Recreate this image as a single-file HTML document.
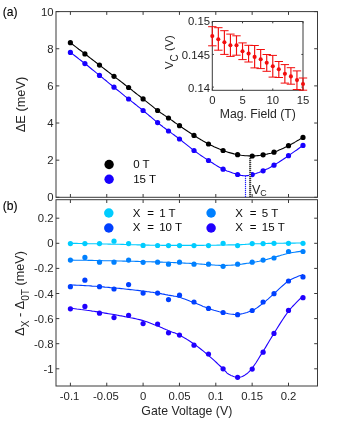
<!DOCTYPE html>
<html><head><meta charset="utf-8"><title>Figure</title>
<style>
html,body{margin:0;padding:0;background:#fff;}
body{width:339px;height:422px;overflow:hidden;font-family:"Liberation Sans",sans-serif;}
svg{display:block;}
#wrap{will-change:transform;width:339px;height:422px;}
svg text{font-family:"Liberation Sans",sans-serif;}
</style></head><body>
<div id="wrap">
<svg width="339" height="422" viewBox="0 0 339 422">
<rect x="0" y="0" width="339" height="422" fill="#ffffff"/>
<rect x="56.0" y="11.6" width="261.50" height="185.70" fill="none" stroke="#3a3a3a" stroke-width="1"/>
<line x1="70.40" y1="197.30" x2="70.40" y2="194.00" stroke="#3a3a3a" stroke-width="1" />
<line x1="70.40" y1="11.60" x2="70.40" y2="14.90" stroke="#3a3a3a" stroke-width="1" />
<line x1="106.75" y1="197.30" x2="106.75" y2="194.00" stroke="#3a3a3a" stroke-width="1" />
<line x1="106.75" y1="11.60" x2="106.75" y2="14.90" stroke="#3a3a3a" stroke-width="1" />
<line x1="143.10" y1="197.30" x2="143.10" y2="194.00" stroke="#3a3a3a" stroke-width="1" />
<line x1="143.10" y1="11.60" x2="143.10" y2="14.90" stroke="#3a3a3a" stroke-width="1" />
<line x1="179.45" y1="197.30" x2="179.45" y2="194.00" stroke="#3a3a3a" stroke-width="1" />
<line x1="179.45" y1="11.60" x2="179.45" y2="14.90" stroke="#3a3a3a" stroke-width="1" />
<line x1="215.80" y1="197.30" x2="215.80" y2="194.00" stroke="#3a3a3a" stroke-width="1" />
<line x1="215.80" y1="11.60" x2="215.80" y2="14.90" stroke="#3a3a3a" stroke-width="1" />
<line x1="252.15" y1="197.30" x2="252.15" y2="194.00" stroke="#3a3a3a" stroke-width="1" />
<line x1="252.15" y1="11.60" x2="252.15" y2="14.90" stroke="#3a3a3a" stroke-width="1" />
<line x1="288.50" y1="197.30" x2="288.50" y2="194.00" stroke="#3a3a3a" stroke-width="1" />
<line x1="288.50" y1="11.60" x2="288.50" y2="14.90" stroke="#3a3a3a" stroke-width="1" />
<line x1="56.00" y1="197.30" x2="59.30" y2="197.30" stroke="#3a3a3a" stroke-width="1" />
<line x1="317.50" y1="197.30" x2="314.20" y2="197.30" stroke="#3a3a3a" stroke-width="1" />
<line x1="56.00" y1="160.16" x2="59.30" y2="160.16" stroke="#3a3a3a" stroke-width="1" />
<line x1="317.50" y1="160.16" x2="314.20" y2="160.16" stroke="#3a3a3a" stroke-width="1" />
<line x1="56.00" y1="123.02" x2="59.30" y2="123.02" stroke="#3a3a3a" stroke-width="1" />
<line x1="317.50" y1="123.02" x2="314.20" y2="123.02" stroke="#3a3a3a" stroke-width="1" />
<line x1="56.00" y1="85.88" x2="59.30" y2="85.88" stroke="#3a3a3a" stroke-width="1" />
<line x1="317.50" y1="85.88" x2="314.20" y2="85.88" stroke="#3a3a3a" stroke-width="1" />
<line x1="56.00" y1="48.74" x2="59.30" y2="48.74" stroke="#3a3a3a" stroke-width="1" />
<line x1="317.50" y1="48.74" x2="314.20" y2="48.74" stroke="#3a3a3a" stroke-width="1" />
<line x1="56.00" y1="11.60" x2="59.30" y2="11.60" stroke="#3a3a3a" stroke-width="1" />
<line x1="317.50" y1="11.60" x2="314.20" y2="11.60" stroke="#3a3a3a" stroke-width="1" />
<rect x="56.0" y="199.7" width="261.50" height="186.30" fill="none" stroke="#3a3a3a" stroke-width="1"/>
<line x1="70.40" y1="386.00" x2="70.40" y2="382.70" stroke="#3a3a3a" stroke-width="1" />
<line x1="70.40" y1="199.70" x2="70.40" y2="203.00" stroke="#3a3a3a" stroke-width="1" />
<line x1="106.75" y1="386.00" x2="106.75" y2="382.70" stroke="#3a3a3a" stroke-width="1" />
<line x1="106.75" y1="199.70" x2="106.75" y2="203.00" stroke="#3a3a3a" stroke-width="1" />
<line x1="143.10" y1="386.00" x2="143.10" y2="382.70" stroke="#3a3a3a" stroke-width="1" />
<line x1="143.10" y1="199.70" x2="143.10" y2="203.00" stroke="#3a3a3a" stroke-width="1" />
<line x1="179.45" y1="386.00" x2="179.45" y2="382.70" stroke="#3a3a3a" stroke-width="1" />
<line x1="179.45" y1="199.70" x2="179.45" y2="203.00" stroke="#3a3a3a" stroke-width="1" />
<line x1="215.80" y1="386.00" x2="215.80" y2="382.70" stroke="#3a3a3a" stroke-width="1" />
<line x1="215.80" y1="199.70" x2="215.80" y2="203.00" stroke="#3a3a3a" stroke-width="1" />
<line x1="252.15" y1="386.00" x2="252.15" y2="382.70" stroke="#3a3a3a" stroke-width="1" />
<line x1="252.15" y1="199.70" x2="252.15" y2="203.00" stroke="#3a3a3a" stroke-width="1" />
<line x1="288.50" y1="386.00" x2="288.50" y2="382.70" stroke="#3a3a3a" stroke-width="1" />
<line x1="288.50" y1="199.70" x2="288.50" y2="203.00" stroke="#3a3a3a" stroke-width="1" />
<line x1="56.00" y1="218.20" x2="59.30" y2="218.20" stroke="#3a3a3a" stroke-width="1" />
<line x1="317.50" y1="218.20" x2="314.20" y2="218.20" stroke="#3a3a3a" stroke-width="1" />
<line x1="56.00" y1="243.30" x2="59.30" y2="243.30" stroke="#3a3a3a" stroke-width="1" />
<line x1="317.50" y1="243.30" x2="314.20" y2="243.30" stroke="#3a3a3a" stroke-width="1" />
<line x1="56.00" y1="268.40" x2="59.30" y2="268.40" stroke="#3a3a3a" stroke-width="1" />
<line x1="317.50" y1="268.40" x2="314.20" y2="268.40" stroke="#3a3a3a" stroke-width="1" />
<line x1="56.00" y1="293.50" x2="59.30" y2="293.50" stroke="#3a3a3a" stroke-width="1" />
<line x1="317.50" y1="293.50" x2="314.20" y2="293.50" stroke="#3a3a3a" stroke-width="1" />
<line x1="56.00" y1="318.60" x2="59.30" y2="318.60" stroke="#3a3a3a" stroke-width="1" />
<line x1="317.50" y1="318.60" x2="314.20" y2="318.60" stroke="#3a3a3a" stroke-width="1" />
<line x1="56.00" y1="343.70" x2="59.30" y2="343.70" stroke="#3a3a3a" stroke-width="1" />
<line x1="317.50" y1="343.70" x2="314.20" y2="343.70" stroke="#3a3a3a" stroke-width="1" />
<line x1="56.00" y1="368.80" x2="59.30" y2="368.80" stroke="#3a3a3a" stroke-width="1" />
<line x1="317.50" y1="368.80" x2="314.20" y2="368.80" stroke="#3a3a3a" stroke-width="1" />
<polyline points="70.4,42.7 71.5,43.6 73.0,44.7 74.8,46.1 76.8,47.6 78.8,49.2 81.0,50.8 83.0,52.4 84.9,53.9 86.8,55.3 88.6,56.7 90.4,58.1 92.2,59.5 94.0,60.9 95.8,62.3 97.7,63.7 99.5,65.1 101.3,66.5 103.1,67.9 104.9,69.3 106.8,70.7 108.6,72.1 110.4,73.5 112.2,74.9 114.0,76.3 115.8,77.7 117.7,79.1 119.5,80.5 121.3,81.9 123.1,83.3 124.9,84.7 126.7,86.1 128.6,87.5 130.4,88.9 132.2,90.3 134.0,91.8 135.8,93.2 137.6,94.6 139.5,96.0 141.3,97.5 143.1,98.9 144.9,100.4 146.8,101.9 148.7,103.4 150.6,104.9 152.5,106.4 154.3,107.9 156.0,109.2 157.6,110.5 159.2,111.6 160.6,112.7 162.0,113.6 163.3,114.5 164.6,115.4 165.9,116.2 167.2,117.1 168.5,118.0 169.9,118.9 171.2,119.9 172.5,120.8 173.8,121.7 175.1,122.7 176.5,123.6 177.9,124.6 179.5,125.7 181.1,126.8 182.8,128.0 184.6,129.2 186.5,130.5 188.4,131.8 190.3,133.0 192.1,134.2 194.0,135.4 195.8,136.5 197.6,137.7 199.4,138.8 201.3,139.9 203.1,141.0 204.9,142.0 206.7,143.0 208.5,144.0 210.3,144.9 212.2,145.8 214.0,146.7 215.8,147.5 217.6,148.3 219.4,149.1 221.3,149.8 223.1,150.5 224.9,151.2 226.7,151.8 228.5,152.4 230.3,152.9 232.2,153.4 234.0,153.9 235.8,154.3 237.6,154.7 239.5,155.0 241.3,155.3 243.2,155.5 245.1,155.7 247.0,155.8 248.8,155.9 250.5,156.0 252.2,156.0 253.7,156.0 255.1,155.9 256.5,155.8 257.8,155.6 259.1,155.5 260.4,155.3 261.7,155.0 263.1,154.8 264.4,154.6 265.7,154.3 267.0,154.1 268.3,153.8 269.6,153.5 271.0,153.2 272.4,152.7 274.0,152.2 275.6,151.6 277.3,150.9 279.1,150.1 281.0,149.3 282.9,148.4 284.8,147.5 286.7,146.6 288.5,145.7 290.4,144.7 292.5,143.6 294.6,142.4 296.7,141.1 298.7,140.0 300.4,138.9 301.9,138.1 303.0,137.4" fill="none" stroke="#000000" stroke-width="1.1" stroke-linejoin="round"/>
<circle cx="70.4" cy="42.7" r="2.6" fill="#000000"/>
<circle cx="84.9" cy="53.9" r="2.6" fill="#000000"/>
<circle cx="99.5" cy="65.1" r="2.6" fill="#000000"/>
<circle cx="114.0" cy="76.3" r="2.6" fill="#000000"/>
<circle cx="128.6" cy="87.5" r="2.6" fill="#000000"/>
<circle cx="143.1" cy="98.9" r="2.6" fill="#000000"/>
<circle cx="157.6" cy="110.5" r="2.6" fill="#000000"/>
<circle cx="168.5" cy="118.0" r="2.6" fill="#000000"/>
<circle cx="179.5" cy="125.7" r="2.6" fill="#000000"/>
<circle cx="194.0" cy="135.4" r="2.6" fill="#000000"/>
<circle cx="208.5" cy="144.0" r="2.6" fill="#000000"/>
<circle cx="223.1" cy="150.5" r="2.6" fill="#000000"/>
<circle cx="237.6" cy="154.7" r="2.6" fill="#000000"/>
<circle cx="252.2" cy="156.0" r="2.6" fill="#000000"/>
<circle cx="263.1" cy="154.8" r="2.6" fill="#000000"/>
<circle cx="274.0" cy="152.2" r="2.6" fill="#000000"/>
<circle cx="288.5" cy="145.7" r="2.6" fill="#000000"/>
<circle cx="303.0" cy="137.4" r="2.6" fill="#000000"/>
<polyline points="70.4,52.4 71.5,53.3 73.0,54.4 74.8,55.8 76.8,57.3 78.8,58.9 81.0,60.5 83.0,62.1 84.9,63.6 86.8,65.0 88.6,66.5 90.4,68.0 92.2,69.5 94.0,70.9 95.8,72.4 97.7,73.9 99.5,75.4 101.3,76.9 103.1,78.3 104.9,79.8 106.8,81.3 108.6,82.8 110.4,84.3 112.2,85.7 114.0,87.2 115.8,88.7 117.7,90.2 119.5,91.6 121.3,93.1 123.1,94.6 124.9,96.1 126.7,97.5 128.6,99.0 130.4,100.4 132.2,101.9 134.0,103.3 135.8,104.7 137.6,106.2 139.5,107.6 141.3,109.0 143.1,110.5 144.9,112.0 146.8,113.6 148.7,115.2 150.6,116.7 152.5,118.3 154.3,119.8 156.0,121.3 157.6,122.6 159.2,123.8 160.6,125.0 162.0,126.0 163.3,127.1 164.6,128.0 165.9,129.0 167.2,130.0 168.5,131.0 169.9,132.0 171.2,132.9 172.5,133.9 173.8,134.8 175.1,135.8 176.5,136.8 177.9,137.8 179.5,139.0 181.1,140.3 182.8,141.7 184.6,143.1 186.5,144.6 188.4,146.1 190.3,147.6 192.1,149.1 194.0,150.5 195.8,151.8 197.6,153.1 199.4,154.4 201.3,155.7 203.1,156.9 204.9,158.1 206.7,159.3 208.5,160.5 210.3,161.7 212.2,162.8 214.0,164.0 215.8,165.1 217.6,166.2 219.4,167.3 221.3,168.3 223.1,169.2 224.9,170.1 226.9,170.9 228.8,171.6 230.8,172.3 232.7,173.0 234.5,173.5 236.1,174.1 237.6,174.5 238.9,174.9 240.0,175.1 241.0,175.4 241.9,175.5 242.8,175.6 243.6,175.7 244.4,175.7 245.3,175.7 246.2,175.7 247.0,175.6 247.8,175.6 248.5,175.5 249.3,175.3 250.2,175.1 251.1,174.9 252.2,174.6 253.3,174.3 254.6,173.9 255.9,173.5 257.3,173.0 258.8,172.5 260.2,171.9 261.7,171.4 263.1,170.8 264.4,170.2 265.7,169.6 267.0,169.0 268.3,168.4 269.6,167.7 271.0,166.9 272.4,166.1 274.0,165.2 275.6,164.2 277.3,163.1 279.1,162.0 281.0,160.7 282.9,159.5 284.8,158.2 286.7,157.0 288.5,155.7 290.4,154.4 292.5,152.9 294.6,151.4 296.7,150.0 298.7,148.5 300.4,147.3 301.9,146.2 303.0,145.4" fill="none" stroke="#1800ff" stroke-width="1.1" stroke-linejoin="round"/>
<circle cx="70.4" cy="52.4" r="2.6" fill="#1800ff"/>
<circle cx="84.9" cy="63.6" r="2.6" fill="#1800ff"/>
<circle cx="99.5" cy="75.4" r="2.6" fill="#1800ff"/>
<circle cx="114.0" cy="87.2" r="2.6" fill="#1800ff"/>
<circle cx="128.6" cy="99.0" r="2.6" fill="#1800ff"/>
<circle cx="143.1" cy="110.5" r="2.6" fill="#1800ff"/>
<circle cx="157.6" cy="122.6" r="2.6" fill="#1800ff"/>
<circle cx="168.5" cy="131.0" r="2.6" fill="#1800ff"/>
<circle cx="179.5" cy="139.0" r="2.6" fill="#1800ff"/>
<circle cx="194.0" cy="150.5" r="2.6" fill="#1800ff"/>
<circle cx="208.5" cy="160.5" r="2.6" fill="#1800ff"/>
<circle cx="223.1" cy="169.2" r="2.6" fill="#1800ff"/>
<circle cx="237.6" cy="174.5" r="2.6" fill="#1800ff"/>
<circle cx="252.2" cy="174.6" r="2.6" fill="#1800ff"/>
<circle cx="263.1" cy="170.8" r="2.6" fill="#1800ff"/>
<circle cx="274.0" cy="165.2" r="2.6" fill="#1800ff"/>
<circle cx="288.5" cy="155.7" r="2.6" fill="#1800ff"/>
<circle cx="303.0" cy="145.4" r="2.6" fill="#1800ff"/>
<line x1="250.00" y1="158.00" x2="250.00" y2="197.00" stroke="#c6c6c6" stroke-width="2" />
<line x1="250.20" y1="158.00" x2="250.20" y2="197.00" stroke="#3c3c3c" stroke-width="2" stroke-dasharray="1 1"/>
<line x1="245.50" y1="176.00" x2="245.50" y2="197.00" stroke="#c4c4ff" stroke-width="1" />
<line x1="245.50" y1="176.00" x2="245.50" y2="197.00" stroke="#2020ff" stroke-width="1.2" stroke-dasharray="1 1"/>
<circle cx="109.1" cy="164.5" r="4.7" fill="#000"/>
<circle cx="109.1" cy="179.2" r="4.7" fill="#1800ff"/>
<rect x="212.3" y="21.5" width="90.70" height="68.80" fill="#fff" stroke="#3a3a3a" stroke-width="1"/>
<line x1="212.30" y1="90.30" x2="212.30" y2="88.50" stroke="#3a3a3a" stroke-width="1" />
<line x1="212.30" y1="21.50" x2="212.30" y2="23.30" stroke="#3a3a3a" stroke-width="1" />
<line x1="242.53" y1="90.30" x2="242.53" y2="88.50" stroke="#3a3a3a" stroke-width="1" />
<line x1="242.53" y1="21.50" x2="242.53" y2="23.30" stroke="#3a3a3a" stroke-width="1" />
<line x1="272.77" y1="90.30" x2="272.77" y2="88.50" stroke="#3a3a3a" stroke-width="1" />
<line x1="272.77" y1="21.50" x2="272.77" y2="23.30" stroke="#3a3a3a" stroke-width="1" />
<line x1="303.00" y1="90.30" x2="303.00" y2="88.50" stroke="#3a3a3a" stroke-width="1" />
<line x1="303.00" y1="21.50" x2="303.00" y2="23.30" stroke="#3a3a3a" stroke-width="1" />
<line x1="212.30" y1="21.50" x2="213.90" y2="21.50" stroke="#3a3a3a" stroke-width="1" />
<line x1="303.00" y1="21.50" x2="301.40" y2="21.50" stroke="#3a3a3a" stroke-width="1" />
<line x1="212.30" y1="54.45" x2="213.90" y2="54.45" stroke="#3a3a3a" stroke-width="1" />
<line x1="303.00" y1="54.45" x2="301.40" y2="54.45" stroke="#3a3a3a" stroke-width="1" />
<line x1="212.30" y1="87.10" x2="213.90" y2="87.10" stroke="#3a3a3a" stroke-width="1" />
<line x1="303.00" y1="87.10" x2="301.40" y2="87.10" stroke="#3a3a3a" stroke-width="1" />
<line x1="212.30" y1="26.70" x2="212.30" y2="45.80" stroke="#f20d0d" stroke-width="1.15" />
<line x1="208.10" y1="26.70" x2="216.50" y2="26.70" stroke="#f20d0d" stroke-width="1" />
<line x1="208.10" y1="45.80" x2="216.50" y2="45.80" stroke="#f20d0d" stroke-width="1" />
<circle cx="212.3" cy="36.1" r="2.05" fill="#f20d0d"/>
<line x1="218.35" y1="27.70" x2="218.35" y2="50.20" stroke="#f20d0d" stroke-width="1.15" />
<line x1="214.15" y1="27.70" x2="222.55" y2="27.70" stroke="#f20d0d" stroke-width="1" />
<line x1="214.15" y1="50.20" x2="222.55" y2="50.20" stroke="#f20d0d" stroke-width="1" />
<circle cx="218.3" cy="39.3" r="2.05" fill="#f20d0d"/>
<line x1="224.39" y1="30.70" x2="224.39" y2="54.40" stroke="#f20d0d" stroke-width="1.15" />
<line x1="220.19" y1="30.70" x2="228.59" y2="30.70" stroke="#f20d0d" stroke-width="1" />
<line x1="220.19" y1="54.40" x2="228.59" y2="54.40" stroke="#f20d0d" stroke-width="1" />
<circle cx="224.4" cy="42.3" r="2.05" fill="#f20d0d"/>
<line x1="230.44" y1="34.10" x2="230.44" y2="56.40" stroke="#f20d0d" stroke-width="1.15" />
<line x1="226.24" y1="34.10" x2="234.64" y2="34.10" stroke="#f20d0d" stroke-width="1" />
<line x1="226.24" y1="56.40" x2="234.64" y2="56.40" stroke="#f20d0d" stroke-width="1" />
<circle cx="230.4" cy="45.3" r="2.05" fill="#f20d0d"/>
<line x1="236.49" y1="35.80" x2="236.49" y2="55.20" stroke="#f20d0d" stroke-width="1.15" />
<line x1="232.29" y1="35.80" x2="240.69" y2="35.80" stroke="#f20d0d" stroke-width="1" />
<line x1="232.29" y1="55.20" x2="240.69" y2="55.20" stroke="#f20d0d" stroke-width="1" />
<circle cx="236.5" cy="45.3" r="2.05" fill="#f20d0d"/>
<line x1="242.53" y1="42.90" x2="242.53" y2="59.60" stroke="#f20d0d" stroke-width="1.15" />
<line x1="238.33" y1="42.90" x2="246.73" y2="42.90" stroke="#f20d0d" stroke-width="1" />
<line x1="238.33" y1="59.60" x2="246.73" y2="59.60" stroke="#f20d0d" stroke-width="1" />
<circle cx="242.5" cy="51.3" r="2.05" fill="#f20d0d"/>
<line x1="248.58" y1="45.30" x2="248.58" y2="62.00" stroke="#f20d0d" stroke-width="1.15" />
<line x1="244.38" y1="45.30" x2="252.78" y2="45.30" stroke="#f20d0d" stroke-width="1" />
<line x1="244.38" y1="62.00" x2="252.78" y2="62.00" stroke="#f20d0d" stroke-width="1" />
<circle cx="248.6" cy="53.6" r="2.05" fill="#f20d0d"/>
<line x1="254.63" y1="45.50" x2="254.63" y2="67.90" stroke="#f20d0d" stroke-width="1.15" />
<line x1="250.43" y1="45.50" x2="258.83" y2="45.50" stroke="#f20d0d" stroke-width="1" />
<line x1="250.43" y1="67.90" x2="258.83" y2="67.90" stroke="#f20d0d" stroke-width="1" />
<circle cx="254.6" cy="56.9" r="2.05" fill="#f20d0d"/>
<line x1="260.67" y1="49.50" x2="260.67" y2="68.60" stroke="#f20d0d" stroke-width="1.15" />
<line x1="256.47" y1="49.50" x2="264.87" y2="49.50" stroke="#f20d0d" stroke-width="1" />
<line x1="256.47" y1="68.60" x2="264.87" y2="68.60" stroke="#f20d0d" stroke-width="1" />
<circle cx="260.7" cy="59.2" r="2.05" fill="#f20d0d"/>
<line x1="266.72" y1="54.50" x2="266.72" y2="71.30" stroke="#f20d0d" stroke-width="1.15" />
<line x1="262.52" y1="54.50" x2="270.92" y2="54.50" stroke="#f20d0d" stroke-width="1" />
<line x1="262.52" y1="71.30" x2="270.92" y2="71.30" stroke="#f20d0d" stroke-width="1" />
<circle cx="266.7" cy="62.8" r="2.05" fill="#f20d0d"/>
<line x1="272.77" y1="55.40" x2="272.77" y2="77.10" stroke="#f20d0d" stroke-width="1.15" />
<line x1="268.57" y1="55.40" x2="276.97" y2="55.40" stroke="#f20d0d" stroke-width="1" />
<line x1="268.57" y1="77.10" x2="276.97" y2="77.10" stroke="#f20d0d" stroke-width="1" />
<circle cx="272.8" cy="66.3" r="2.05" fill="#f20d0d"/>
<line x1="278.81" y1="61.50" x2="278.81" y2="77.50" stroke="#f20d0d" stroke-width="1.15" />
<line x1="274.61" y1="61.50" x2="283.01" y2="61.50" stroke="#f20d0d" stroke-width="1" />
<line x1="274.61" y1="77.50" x2="283.01" y2="77.50" stroke="#f20d0d" stroke-width="1" />
<circle cx="278.8" cy="69.3" r="2.05" fill="#f20d0d"/>
<line x1="284.86" y1="64.60" x2="284.86" y2="83.10" stroke="#f20d0d" stroke-width="1.15" />
<line x1="280.66" y1="64.60" x2="289.06" y2="64.60" stroke="#f20d0d" stroke-width="1" />
<line x1="280.66" y1="83.10" x2="289.06" y2="83.10" stroke="#f20d0d" stroke-width="1" />
<circle cx="284.9" cy="73.8" r="2.05" fill="#f20d0d"/>
<line x1="290.91" y1="67.70" x2="290.91" y2="84.20" stroke="#f20d0d" stroke-width="1.15" />
<line x1="286.71" y1="67.70" x2="295.11" y2="67.70" stroke="#f20d0d" stroke-width="1" />
<line x1="286.71" y1="84.20" x2="295.11" y2="84.20" stroke="#f20d0d" stroke-width="1" />
<circle cx="290.9" cy="76.4" r="2.05" fill="#f20d0d"/>
<line x1="296.95" y1="70.90" x2="296.95" y2="89.50" stroke="#f20d0d" stroke-width="1.15" />
<line x1="292.75" y1="70.90" x2="301.15" y2="70.90" stroke="#f20d0d" stroke-width="1" />
<line x1="292.75" y1="89.50" x2="301.15" y2="89.50" stroke="#f20d0d" stroke-width="1" />
<circle cx="297.0" cy="80.1" r="2.05" fill="#f20d0d"/>
<line x1="303.00" y1="78.00" x2="303.00" y2="90.20" stroke="#f20d0d" stroke-width="1.15" />
<line x1="298.80" y1="78.00" x2="307.20" y2="78.00" stroke="#f20d0d" stroke-width="1" />
<line x1="298.80" y1="90.20" x2="307.20" y2="90.20" stroke="#f20d0d" stroke-width="1" />
<circle cx="303.0" cy="84.0" r="2.05" fill="#f20d0d"/>
<polyline points="70.4,243.3 71.5,243.3 73.0,243.4 74.8,243.4 76.8,243.4 78.8,243.5 81.0,243.5 83.0,243.6 84.9,243.6 86.8,243.6 88.6,243.7 90.4,243.7 92.2,243.8 94.0,243.8 95.8,243.8 97.7,243.9 99.5,243.9 101.3,243.9 103.1,244.0 104.9,244.0 106.8,244.0 108.6,244.1 110.4,244.1 112.2,244.2 114.0,244.2 115.8,244.2 117.7,244.3 119.5,244.3 121.3,244.4 123.1,244.4 124.9,244.5 126.7,244.5 128.6,244.6 130.4,244.7 132.2,244.7 134.0,244.8 135.8,244.8 137.6,244.9 139.5,244.9 141.3,245.0 143.1,245.0 144.9,245.0 146.8,245.1 148.7,245.1 150.6,245.2 152.5,245.2 154.3,245.2 156.0,245.3 157.6,245.3 159.2,245.3 160.6,245.3 162.0,245.4 163.3,245.4 164.6,245.4 165.9,245.4 167.2,245.4 168.5,245.4 169.9,245.4 171.2,245.4 172.5,245.4 173.8,245.4 175.1,245.4 176.5,245.4 177.9,245.4 179.5,245.4 181.1,245.4 182.8,245.4 184.6,245.4 186.5,245.4 188.4,245.4 190.3,245.4 192.1,245.4 194.0,245.4 195.8,245.4 197.6,245.4 199.4,245.4 201.3,245.4 203.1,245.4 204.9,245.3 206.7,245.3 208.5,245.3 210.3,245.3 212.2,245.2 214.0,245.2 215.8,245.2 217.6,245.1 219.4,245.1 221.3,245.0 223.1,245.0 224.9,245.0 226.7,245.0 228.5,244.9 230.3,244.9 232.2,244.9 234.0,244.9 235.8,244.9 237.6,244.8 239.5,244.7 241.3,244.6 243.2,244.5 245.1,244.4 247.0,244.2 248.8,244.1 250.5,244.0 252.2,243.9 253.7,243.8 255.1,243.8 256.5,243.7 257.8,243.7 259.1,243.7 260.4,243.7 261.7,243.6 263.1,243.6 264.4,243.6 265.7,243.5 267.0,243.5 268.3,243.4 269.6,243.4 271.0,243.4 272.4,243.3 274.0,243.3 275.6,243.3 277.3,243.2 279.1,243.2 281.0,243.2 282.9,243.2 284.8,243.1 286.7,243.1 288.5,243.1 290.4,243.1 292.5,243.1 294.6,243.1 296.7,243.0 298.7,243.0 300.4,243.0 301.9,243.0 303.0,243.0" fill="none" stroke="#00ccff" stroke-width="1.1" stroke-linejoin="round"/>
<circle cx="70.4" cy="243.6" r="2.6" fill="#00ccff"/>
<circle cx="84.9" cy="243.6" r="2.6" fill="#00ccff"/>
<circle cx="99.5" cy="243.6" r="2.6" fill="#00ccff"/>
<circle cx="114.0" cy="241.2" r="2.6" fill="#00ccff"/>
<circle cx="128.6" cy="243.6" r="2.6" fill="#00ccff"/>
<circle cx="143.1" cy="245.4" r="2.6" fill="#00ccff"/>
<circle cx="157.6" cy="245.5" r="2.6" fill="#00ccff"/>
<circle cx="168.5" cy="245.6" r="2.6" fill="#00ccff"/>
<circle cx="179.5" cy="245.6" r="2.6" fill="#00ccff"/>
<circle cx="194.0" cy="245.6" r="2.6" fill="#00ccff"/>
<circle cx="208.5" cy="245.6" r="2.6" fill="#00ccff"/>
<circle cx="223.1" cy="243.3" r="2.6" fill="#00ccff"/>
<circle cx="237.6" cy="245.6" r="2.6" fill="#00ccff"/>
<circle cx="252.2" cy="243.6" r="2.6" fill="#00ccff"/>
<circle cx="263.1" cy="243.6" r="2.6" fill="#00ccff"/>
<circle cx="274.0" cy="243.3" r="2.6" fill="#00ccff"/>
<circle cx="288.5" cy="243.3" r="2.6" fill="#00ccff"/>
<circle cx="303.0" cy="243.3" r="2.6" fill="#00ccff"/>
<polyline points="70.4,260.1 71.5,260.1 73.0,260.1 74.8,260.2 76.8,260.2 78.8,260.2 81.0,260.2 83.0,260.3 84.9,260.3 86.8,260.3 88.6,260.4 90.4,260.4 92.2,260.4 94.0,260.5 95.8,260.5 97.7,260.6 99.5,260.6 101.3,260.6 103.1,260.7 104.9,260.7 106.8,260.8 108.6,260.8 110.4,260.8 112.2,260.9 114.0,260.9 115.8,260.9 117.7,261.0 119.5,261.0 121.3,261.0 123.1,261.1 124.9,261.1 126.7,261.2 128.6,261.2 130.4,261.2 132.2,261.3 134.0,261.3 135.8,261.4 137.6,261.4 139.5,261.5 141.3,261.5 143.1,261.6 144.9,261.7 146.8,261.7 148.7,261.8 150.6,261.8 152.5,261.9 154.3,261.9 156.0,262.0 157.6,262.0 159.2,262.1 160.6,262.1 162.0,262.1 163.3,262.2 164.6,262.2 165.9,262.3 167.2,262.3 168.5,262.4 169.9,262.4 171.2,262.5 172.5,262.5 173.8,262.6 175.1,262.6 176.5,262.7 177.9,262.7 179.5,262.8 181.1,262.9 182.8,263.0 184.6,263.1 186.5,263.2 188.4,263.3 190.3,263.4 192.1,263.5 194.0,263.6 195.8,263.7 197.6,263.8 199.4,264.0 201.3,264.1 203.1,264.2 204.9,264.4 206.7,264.5 208.5,264.6 210.3,264.7 212.2,264.9 214.0,265.0 215.8,265.2 217.6,265.3 219.4,265.4 221.3,265.5 223.1,265.5 224.9,265.5 226.7,265.4 228.5,265.3 230.3,265.2 232.2,265.1 234.0,265.0 235.8,264.8 237.6,264.6 239.5,264.4 241.3,264.2 243.2,263.9 245.1,263.6 247.0,263.3 248.8,263.1 250.5,262.8 252.2,262.5 253.7,262.2 255.1,262.0 256.5,261.8 257.8,261.5 259.1,261.3 260.4,261.0 261.7,260.7 263.1,260.4 264.4,260.1 265.7,259.7 267.0,259.4 268.3,259.0 269.6,258.6 271.0,258.2 272.4,257.8 274.0,257.4 275.6,256.9 277.3,256.4 279.1,255.9 281.0,255.3 282.9,254.8 284.8,254.2 286.7,253.7 288.5,253.3 290.4,252.9 292.5,252.5 294.6,252.2 296.7,251.9 298.7,251.6 300.4,251.4 301.9,251.2 303.0,251.0" fill="none" stroke="#0080ff" stroke-width="1.1" stroke-linejoin="round"/>
<circle cx="70.4" cy="260.1" r="2.6" fill="#0080ff"/>
<circle cx="84.9" cy="257.4" r="2.6" fill="#0080ff"/>
<circle cx="99.5" cy="262.2" r="2.6" fill="#0080ff"/>
<circle cx="114.0" cy="262.2" r="2.6" fill="#0080ff"/>
<circle cx="128.6" cy="260.1" r="2.6" fill="#0080ff"/>
<circle cx="143.1" cy="262.3" r="2.6" fill="#0080ff"/>
<circle cx="157.6" cy="262.2" r="2.6" fill="#0080ff"/>
<circle cx="168.5" cy="264.2" r="2.6" fill="#0080ff"/>
<circle cx="179.5" cy="262.2" r="2.6" fill="#0080ff"/>
<circle cx="194.0" cy="264.2" r="2.6" fill="#0080ff"/>
<circle cx="208.5" cy="264.2" r="2.6" fill="#0080ff"/>
<circle cx="223.1" cy="266.3" r="2.6" fill="#0080ff"/>
<circle cx="237.6" cy="264.2" r="2.6" fill="#0080ff"/>
<circle cx="252.2" cy="262.2" r="2.6" fill="#0080ff"/>
<circle cx="263.1" cy="260.1" r="2.6" fill="#0080ff"/>
<circle cx="274.0" cy="258.0" r="2.6" fill="#0080ff"/>
<circle cx="288.5" cy="251.5" r="2.6" fill="#0080ff"/>
<circle cx="303.0" cy="251.5" r="2.6" fill="#0080ff"/>
<polyline points="70.4,284.9 71.5,285.0 73.0,285.0 74.8,285.1 76.8,285.2 78.8,285.3 81.0,285.4 83.0,285.5 84.9,285.6 86.8,285.7 88.6,285.8 90.4,285.9 92.2,286.1 94.0,286.2 95.8,286.3 97.7,286.5 99.5,286.6 101.3,286.7 103.1,286.9 104.9,287.1 106.8,287.2 108.6,287.4 110.4,287.6 112.2,287.7 114.0,287.9 115.8,288.1 117.7,288.3 119.5,288.4 121.3,288.6 123.1,288.8 124.9,289.0 126.7,289.2 128.6,289.4 130.4,289.6 132.2,289.8 134.0,290.0 135.8,290.2 137.6,290.4 139.5,290.6 141.3,290.9 143.1,291.1 144.9,291.3 146.8,291.6 148.7,291.8 150.6,292.1 152.5,292.3 154.3,292.6 156.0,292.8 157.6,293.1 159.2,293.4 160.6,293.6 162.0,293.9 163.3,294.1 164.6,294.4 165.9,294.7 167.2,294.9 168.5,295.2 169.9,295.4 171.2,295.6 172.5,295.8 173.8,296.1 175.1,296.3 176.5,296.5 177.9,296.9 179.5,297.3 181.1,297.8 182.8,298.4 184.6,299.0 186.5,299.7 188.4,300.4 190.3,301.2 192.1,301.9 194.0,302.6 195.8,303.3 197.6,304.1 199.4,304.8 201.3,305.6 203.1,306.4 204.9,307.1 206.7,307.8 208.5,308.5 210.3,309.1 212.2,309.7 214.0,310.3 215.8,310.8 217.6,311.3 219.4,311.8 221.3,312.2 223.1,312.6 224.9,313.0 226.7,313.3 228.5,313.7 230.3,314.0 232.2,314.2 234.0,314.4 235.8,314.5 237.6,314.4 239.5,314.2 241.3,313.9 243.2,313.5 245.1,313.0 247.0,312.5 248.8,311.8 250.5,311.2 252.2,310.5 253.7,309.8 255.1,309.0 256.5,308.1 257.8,307.2 259.1,306.2 260.4,305.3 261.7,304.2 263.1,303.2 264.4,302.1 265.7,301.1 267.0,299.9 268.3,298.8 269.6,297.6 271.0,296.4 272.4,295.1 274.0,293.7 275.6,292.2 277.3,290.6 279.1,288.9 281.0,287.2 282.9,285.5 284.8,283.8 286.7,282.3 288.5,281.0 290.4,279.8 292.5,278.8 294.6,277.8 296.7,276.9 298.7,276.1 300.4,275.4 301.9,274.9 303.0,274.4" fill="none" stroke="#0040ff" stroke-width="1.1" stroke-linejoin="round"/>
<circle cx="70.4" cy="286.7" r="2.6" fill="#0040ff"/>
<circle cx="84.9" cy="280.2" r="2.6" fill="#0040ff"/>
<circle cx="99.5" cy="286.7" r="2.6" fill="#0040ff"/>
<circle cx="114.0" cy="289.0" r="2.6" fill="#0040ff"/>
<circle cx="128.6" cy="284.6" r="2.6" fill="#0040ff"/>
<circle cx="143.1" cy="293.1" r="2.6" fill="#0040ff"/>
<circle cx="157.6" cy="293.1" r="2.6" fill="#0040ff"/>
<circle cx="168.5" cy="299.6" r="2.6" fill="#0040ff"/>
<circle cx="179.5" cy="295.2" r="2.6" fill="#0040ff"/>
<circle cx="194.0" cy="302.0" r="2.6" fill="#0040ff"/>
<circle cx="208.5" cy="308.4" r="2.6" fill="#0040ff"/>
<circle cx="223.1" cy="312.5" r="2.6" fill="#0040ff"/>
<circle cx="237.6" cy="314.7" r="2.6" fill="#0040ff"/>
<circle cx="252.2" cy="310.5" r="2.6" fill="#0040ff"/>
<circle cx="263.1" cy="302.0" r="2.6" fill="#0040ff"/>
<circle cx="274.0" cy="293.7" r="2.6" fill="#0040ff"/>
<circle cx="288.5" cy="281.0" r="2.6" fill="#0040ff"/>
<circle cx="303.0" cy="276.9" r="2.6" fill="#0040ff"/>
<polyline points="70.4,308.2 71.5,308.3 73.0,308.5 74.8,308.7 76.8,309.0 78.8,309.2 81.0,309.5 83.0,309.7 84.9,310.0 86.8,310.3 88.6,310.5 90.4,310.8 92.2,311.1 94.0,311.3 95.8,311.6 97.7,311.9 99.5,312.2 101.3,312.5 103.1,312.8 104.9,313.1 106.8,313.4 108.6,313.7 110.4,314.0 112.2,314.3 114.0,314.6 115.8,314.9 117.7,315.2 119.5,315.6 121.3,315.9 123.1,316.2 124.9,316.6 126.7,316.9 128.6,317.3 130.4,317.7 132.2,318.0 134.0,318.4 135.8,318.8 137.6,319.2 139.5,319.6 141.3,320.1 143.1,320.6 144.9,321.2 146.8,321.8 148.7,322.5 150.6,323.2 152.5,323.9 154.3,324.7 156.0,325.3 157.6,326.0 159.2,326.6 160.6,327.2 162.0,327.8 163.3,328.4 164.6,329.0 165.9,329.6 167.2,330.1 168.5,330.7 169.9,331.2 171.2,331.7 172.5,332.2 173.8,332.6 175.1,333.1 176.5,333.7 177.9,334.3 179.5,335.1 181.1,336.0 182.8,336.9 184.6,338.0 186.5,339.1 188.4,340.3 190.3,341.5 192.1,342.7 194.0,344.0 195.8,345.3 197.6,346.6 199.4,348.0 201.3,349.5 203.1,350.9 204.9,352.4 206.7,354.0 208.5,355.5 210.4,357.1 212.4,358.9 214.4,360.7 216.4,362.5 218.3,364.3 220.1,366.0 221.7,367.5 223.1,368.8 224.2,369.9 225.0,370.8 225.7,371.5 226.3,372.2 226.8,372.8 227.4,373.3 228.0,373.8 228.8,374.3 229.8,374.8 230.8,375.4 231.9,375.8 233.1,376.3 234.3,376.7 235.4,377.0 236.6,377.2 237.6,377.3 238.6,377.3 239.6,377.2 240.5,377.0 241.5,376.7 242.4,376.4 243.3,375.9 244.2,375.4 245.1,374.9 246.0,374.3 246.8,373.8 247.6,373.1 248.4,372.4 249.2,371.6 250.1,370.7 251.1,369.6 252.2,368.2 253.3,366.6 254.6,364.7 256.0,362.7 257.4,360.5 258.8,358.2 260.2,355.9 261.7,353.6 263.1,351.4 264.4,349.2 265.7,347.1 267.0,344.9 268.3,342.7 269.6,340.5 271.0,338.2 272.4,335.9 274.0,333.4 275.6,330.8 277.3,328.0 279.1,325.1 281.0,322.1 282.9,319.2 284.8,316.4 286.7,313.7 288.5,311.2 290.4,308.9 292.5,306.5 294.6,304.3 296.7,302.2 298.7,300.2 300.4,298.5 301.9,297.0 303.0,295.9" fill="none" stroke="#2000ff" stroke-width="1.1" stroke-linejoin="round"/>
<circle cx="70.4" cy="308.8" r="2.6" fill="#2000ff"/>
<circle cx="84.9" cy="306.4" r="2.6" fill="#2000ff"/>
<circle cx="99.5" cy="313.2" r="2.6" fill="#2000ff"/>
<circle cx="114.0" cy="317.6" r="2.6" fill="#2000ff"/>
<circle cx="128.6" cy="315.3" r="2.6" fill="#2000ff"/>
<circle cx="143.1" cy="323.6" r="2.6" fill="#2000ff"/>
<circle cx="157.6" cy="324.0" r="2.6" fill="#2000ff"/>
<circle cx="168.5" cy="332.8" r="2.6" fill="#2000ff"/>
<circle cx="179.5" cy="335.1" r="2.6" fill="#2000ff"/>
<circle cx="194.0" cy="345.2" r="2.6" fill="#2000ff"/>
<circle cx="208.5" cy="354.0" r="2.6" fill="#2000ff"/>
<circle cx="223.1" cy="368.8" r="2.6" fill="#2000ff"/>
<circle cx="237.6" cy="377.3" r="2.6" fill="#2000ff"/>
<circle cx="252.2" cy="369.1" r="2.6" fill="#2000ff"/>
<circle cx="263.1" cy="352.2" r="2.6" fill="#2000ff"/>
<circle cx="274.0" cy="333.4" r="2.6" fill="#2000ff"/>
<circle cx="288.5" cy="310.4" r="2.6" fill="#2000ff"/>
<circle cx="303.0" cy="297.7" r="2.6" fill="#2000ff"/>
<circle cx="108.8" cy="213.0" r="4.75" fill="#00ccff"/>
<circle cx="108.8" cy="228.0" r="4.75" fill="#0040ff"/>
<circle cx="211.1" cy="213.0" r="4.75" fill="#0080ff"/>
<circle cx="211.1" cy="228.0" r="4.75" fill="#2000ff"/>
<g style="filter:grayscale(1)">
<text transform="translate(53.60,201.30) scale(1.09,1)" font-size="10.4" text-anchor="end" fill="#262626" >0</text>
<text transform="translate(53.60,164.16) scale(1.09,1)" font-size="10.4" text-anchor="end" fill="#262626" >2</text>
<text transform="translate(53.60,127.02) scale(1.09,1)" font-size="10.4" text-anchor="end" fill="#262626" >4</text>
<text transform="translate(53.60,89.88) scale(1.09,1)" font-size="10.4" text-anchor="end" fill="#262626" >6</text>
<text transform="translate(53.60,52.74) scale(1.09,1)" font-size="10.4" text-anchor="end" fill="#262626" >8</text>
<text transform="translate(53.60,15.60) scale(1.09,1)" font-size="10.4" text-anchor="end" fill="#262626" >10</text>
<text transform="translate(69.60,400.00) scale(1.09,1)" font-size="10.4" text-anchor="middle" fill="#262626" >-0.1</text>
<text transform="translate(105.95,400.00) scale(1.09,1)" font-size="10.4" text-anchor="middle" fill="#262626" >-0.05</text>
<text transform="translate(143.10,400.00) scale(1.09,1)" font-size="10.4" text-anchor="middle" fill="#262626" >0</text>
<text transform="translate(179.45,400.00) scale(1.09,1)" font-size="10.4" text-anchor="middle" fill="#262626" >0.05</text>
<text transform="translate(215.80,400.00) scale(1.09,1)" font-size="10.4" text-anchor="middle" fill="#262626" >0.1</text>
<text transform="translate(252.15,400.00) scale(1.09,1)" font-size="10.4" text-anchor="middle" fill="#262626" >0.15</text>
<text transform="translate(288.50,400.00) scale(1.09,1)" font-size="10.4" text-anchor="middle" fill="#262626" >0.2</text>
<text transform="translate(53.60,222.20) scale(1.09,1)" font-size="10.4" text-anchor="end" fill="#262626" >0.2</text>
<text transform="translate(53.60,247.30) scale(1.09,1)" font-size="10.4" text-anchor="end" fill="#262626" >0</text>
<text transform="translate(53.60,272.40) scale(1.09,1)" font-size="10.4" text-anchor="end" fill="#262626" >-0.2</text>
<text transform="translate(53.60,297.50) scale(1.09,1)" font-size="10.4" text-anchor="end" fill="#262626" >-0.4</text>
<text transform="translate(53.60,322.60) scale(1.09,1)" font-size="10.4" text-anchor="end" fill="#262626" >-0.6</text>
<text transform="translate(53.60,347.70) scale(1.09,1)" font-size="10.4" text-anchor="end" fill="#262626" >-0.8</text>
<text transform="translate(53.60,372.80) scale(1.09,1)" font-size="10.4" text-anchor="end" fill="#262626" >-1</text>
<text transform="translate(252.00,193.80) scale(1.05,1)" font-size="12" text-anchor="start" fill="#262626" >V</text>
<text transform="translate(260.20,196.30) scale(1.05,1)" font-size="8.5" text-anchor="start" fill="#262626" >C</text>
<text transform="translate(133.20,168.20) scale(1.09,1)" font-size="10.6" text-anchor="start" fill="#0a0a0a" >0 T</text>
<text transform="translate(133.20,183.30) scale(1.09,1)" font-size="10.6" text-anchor="start" fill="#0a0a0a" >15 T</text>
<text transform="translate(212.30,103.80) scale(1.09,1)" font-size="10.4" text-anchor="middle" fill="#262626" >0</text>
<text transform="translate(242.53,103.80) scale(1.09,1)" font-size="10.4" text-anchor="middle" fill="#262626" >5</text>
<text transform="translate(272.77,103.80) scale(1.09,1)" font-size="10.4" text-anchor="middle" fill="#262626" >10</text>
<text transform="translate(303.00,103.80) scale(1.09,1)" font-size="10.4" text-anchor="middle" fill="#262626" >15</text>
<text transform="translate(210.10,25.40) scale(1.09,1)" font-size="10.4" text-anchor="end" fill="#262626" >0.15</text>
<text transform="translate(210.10,59.30) scale(1.09,1)" font-size="10.4" text-anchor="end" fill="#262626" >0.145</text>
<text transform="translate(210.10,91.50) scale(1.09,1)" font-size="10.4" text-anchor="end" fill="#262626" >0.14</text>
<text transform="translate(257.80,118.20) scale(1.02,1)" font-size="12" text-anchor="middle" fill="#262626" >Mag. Field (T)</text>
<g transform="translate(172.8,52.3) rotate(-90)"><text x="0" y="0" font-size="11.8" text-anchor="middle" fill="#262626">V<tspan font-size="10" dy="5.4">C</tspan><tspan dy="-5.4"> (V)</tspan></text></g>
<text transform="translate(132.70,217.00) scale(1.09,1)" font-size="10.6" text-anchor="start" fill="#0a0a0a" >X</text>
<text transform="translate(147.20,217.00) scale(1.09,1)" font-size="10.6" text-anchor="start" fill="#0a0a0a" >=</text>
<text transform="translate(159.20,217.00) scale(1.09,1)" font-size="10.6" text-anchor="start" fill="#0a0a0a" >1 T</text>
<text transform="translate(132.70,231.40) scale(1.09,1)" font-size="10.6" text-anchor="start" fill="#0a0a0a" >X</text>
<text transform="translate(147.20,231.40) scale(1.09,1)" font-size="10.6" text-anchor="start" fill="#0a0a0a" >=</text>
<text transform="translate(159.20,231.40) scale(1.09,1)" font-size="10.6" text-anchor="start" fill="#0a0a0a" >10 T</text>
<text transform="translate(235.30,217.00) scale(1.09,1)" font-size="10.6" text-anchor="start" fill="#0a0a0a" >X</text>
<text transform="translate(249.80,217.00) scale(1.09,1)" font-size="10.6" text-anchor="start" fill="#0a0a0a" >=</text>
<text transform="translate(261.80,217.00) scale(1.09,1)" font-size="10.6" text-anchor="start" fill="#0a0a0a" >5 T</text>
<text transform="translate(235.30,231.40) scale(1.09,1)" font-size="10.6" text-anchor="start" fill="#0a0a0a" >X</text>
<text transform="translate(249.80,231.40) scale(1.09,1)" font-size="10.6" text-anchor="start" fill="#0a0a0a" >=</text>
<text transform="translate(261.80,231.40) scale(1.09,1)" font-size="10.6" text-anchor="start" fill="#0a0a0a" >15 T</text>
<text transform="translate(2.80,16.40) scale(0.97,1)" font-size="12.5" text-anchor="start" fill="#000" stroke="#000" stroke-width="0.12">(a)</text>
<text transform="translate(2.80,209.50) scale(0.97,1)" font-size="12.5" text-anchor="start" fill="#000" stroke="#000" stroke-width="0.12">(b)</text>
<g transform="translate(25.3,104.5) rotate(-90)"><text x="0" y="0" font-size="12.8" text-anchor="middle" fill="#262626">&#916;E (meV)</text></g>
<g transform="translate(23.5,293.4) rotate(-90)"><text x="0" y="0" font-size="12.6" text-anchor="middle" fill="#262626">&#916;<tspan font-size="10.2" dy="5.5">X</tspan><tspan dy="-5.5"> - &#916;</tspan><tspan font-size="10.2" dy="5.5">0T</tspan><tspan dy="-5.5"> (meV)</tspan></text></g>
<text transform="translate(186.80,414.60) scale(1.025,1)" font-size="12" text-anchor="middle" fill="#262626" >Gate Voltage (V)</text>
</g>
</svg>
</div>
</body></html>
